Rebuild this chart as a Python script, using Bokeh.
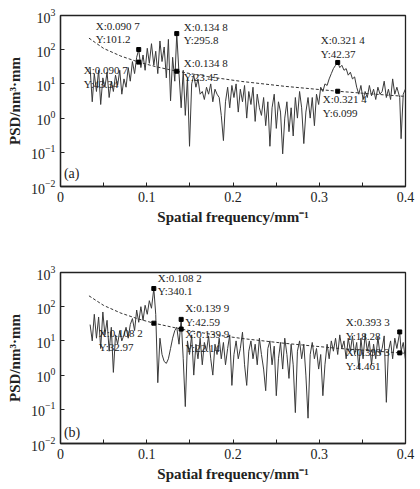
from bokeh.plotting import figure
from bokeh.models import Range1d, FixedTicker, LogTickFormatter, Label, ColumnDataSource
from bokeh.layouts import column
from bokeh.core.properties import value
from bokeh.embed import file_html
from bokeh.resources import INLINE

# ---------------- data ----------------
freq = [0.0343, 0.0368, 0.0392, 0.0417, 0.0442, 0.0466, 0.0491, 0.0515, 0.0540, 0.0564,
        0.0589, 0.0613, 0.0638, 0.0662, 0.0687, 0.0711, 0.0736, 0.0760, 0.0785, 0.0809,
        0.0834, 0.0859, 0.0883, 0.0907, 0.0932, 0.0957, 0.0981, 0.1006, 0.1030, 0.1055,
        0.1082, 0.1104, 0.1128, 0.1153, 0.1177, 0.1202, 0.1227, 0.1251, 0.1276, 0.1300,
        0.1325, 0.1348, 0.1374, 0.1399, 0.1423, 0.1447, 0.1472, 0.1496, 0.1521, 0.1545,
        0.1570, 0.1594, 0.1619, 0.1644, 0.1668, 0.1693, 0.1717, 0.1742, 0.1766, 0.1791,
        0.1815, 0.1840, 0.1864, 0.1889, 0.1913, 0.1938, 0.1962, 0.1987, 0.2011, 0.2036,
        0.2061, 0.2085, 0.2110, 0.2134, 0.2159, 0.2183, 0.2208, 0.2232, 0.2257, 0.2281,
        0.2306, 0.2330, 0.2355, 0.2379, 0.2404, 0.2428, 0.2453, 0.2478, 0.2502, 0.2527,
        0.2551, 0.2576, 0.2600, 0.2625, 0.2649, 0.2674, 0.2698, 0.2723, 0.2747, 0.2772,
        0.2796, 0.2821, 0.2845, 0.2870, 0.2895, 0.2919, 0.2944, 0.2968, 0.2993, 0.3017,
        0.3042, 0.3066, 0.3091, 0.3115, 0.3140, 0.3164, 0.3189, 0.3214, 0.3238, 0.3262,
        0.3287, 0.3312, 0.3336, 0.3361, 0.3385, 0.3410, 0.3434, 0.3459, 0.3483, 0.3508,
        0.3532, 0.3557, 0.3581, 0.3606, 0.3630, 0.3655, 0.3680, 0.3704, 0.3729, 0.3753,
        0.3778, 0.3802, 0.3827, 0.3851, 0.3876, 0.3900, 0.3933, 0.3949, 0.3974, 0.3998]

psd_a = [30, 3, 20, 6, 25, 2.5, 15, 8, 22, 4,
         12, 6, 18, 9, 25, 5, 14, 8, 30, 12,
         45, 20, 60, 101.2, 30, 70, 25, 110, 40, 150,
         35, 90, 20, 180, 45, 120, 15, 200, 3.2, 60,
         12, 295.8, 20, 2.0, 25, 1.2, 15, 0.15, 10, 18,
         8, 14, 5, 6, 3.5, 8, 5, 10, 3, 7,
         5, 4, 1.2, 0.22, 3, 8, 2, 9, 4, 10,
         1.5, 7, 3, 9, 1.0, 6, 2.5, 8, 0.8, 5,
         2, 1.2, 4, 0.6, 3, 0.15, 2, 5, 0.5, 3,
         1.5, 0.09, 1.0, 3, 0.4, 2, 0.3, 4, 1, 6,
         2, 0.18, 1.5, 4, 1.0, 4, 0.6, 5, 2.5, 8,
         6, 10, 9, 14, 20, 28, 35, 42.37, 30, 35,
         25, 28, 18, 22, 14, 16, 8, 5, 9, 3.5,
         6, 4, 9, 4.5, 7, 3.5, 8, 5, 6, 12,
         4, 7, 3.5, 14, 5, 8, 4, 0.25, 5, 7]

psd_b = [30, 10, 60, 12, 50, 6, 70, 15, 40, 5,
         25, 1.2, 15, 8, 20, 10, 15, 25, 12, 30,
         45, 20, 80, 35, 100, 40, 110, 60, 150, 90,
         340.1, 60, 0.6, 12, 4, 2.5, 2.2, 3, 6, 12,
         20, 25, 8, 42.59, 3, 0.12, 10, 4, 15, 1.0,
         8, 3, 12, 2, 9, 5, 14, 3, 1.0, 8,
         4, 12, 3, 9, 2, 6, 15, 0.5, 4, 10,
         3, 6, 18, 2, 0.5, 5, 10, 3, 8, 2,
         12, 4, 1.5, 0.35, 6, 10, 2, 7, 0.25, 3,
         9, 1.5, 12, 4, 0.8, 8, 2, 0.08, 5, 10,
         3, 8, 1, 0.055, 4, 9, 3, 6, 1.5, 4,
         0.25, 2, 8, 3, 10, 5, 12, 4, 15, 6,
         10, 3, 12, 5, 14, 4, 9, 1.5, 12, 3,
         16, 5, 10, 2, 8, 3, 13, 4, 6, 14,
         0.16, 5, 10, 3, 12, 6, 18.28, 5, 9, 3]

fit_a_x = [0.033, 0.05, 0.07, 0.0907, 0.11, 0.1348, 0.17, 0.21, 0.26, 0.3214, 0.36, 0.4]
fit_a_y = [218, 109, 65, 43.34, 32.1, 23.45, 16.4, 11.8, 8.5, 6.099, 5.1, 4.3]
fit_b_x = [0.033, 0.05, 0.07, 0.09, 0.1082, 0.1399, 0.17, 0.21, 0.26, 0.32, 0.3933, 0.4]
fit_b_y = [208, 109, 65, 44, 32.97, 22.14, 16.3, 11.8, 8.5, 6.1, 4.461, 4.35]

tip_a_x = [0.0907, 0.0907, 0.1348, 0.1348, 0.3214, 0.3214]
tip_a_y = [101.2, 43.34, 295.8, 23.45, 42.37, 6.099]
tip_a_text = ["X:0.090 7\nY:101.2", "X:0.090 7\nY:43.34", "X:0.134 8\nY:295.8",
              "X:0.134 8\nY:23.45", "X:0.321 4\nY:42.37", "X:0.321 4\nY:6.099"]
tip_b_x = [0.1082, 0.1082, 0.1399, 0.1399, 0.3933, 0.3933]
tip_b_y = [340.1, 32.97, 42.59, 22.14, 18.28, 4.461]
tip_b_text = ["X:0.108 2\nY:340.1", "X:0.108 2\nY:32.97", "X:0.139 9\nY:42.59",
              "X:0.139 9\nY:22.14", "X:0.393 3\nY:18.28", "X:0.393 3\nY:4.461"]

x_ticks = [0, 0.1, 0.2, 0.3, 0.4]
x_minor = [0.05, 0.15, 0.25, 0.35]
y_ticks = [1e-2, 1e-1, 1e0, 1e1, 1e2, 1e3]

# ---------------- label placement (pixels) ----------------
tip_a_dx = [-43, -55, 7, 7, -17, -15]
tip_a_dy = [-30, 2, -13, -14, -28, 2]
tip_b_dx = [4, -55, 4, 4, -54, -54]
tip_b_dy = [-17, 4, -17, -1, -16, -7]

FONT = "Liberation Serif"


def panel(psd, fx, fy, tx, ty, ttext, tdx, tdy, tag, tag_y, height, btop, bbottom):
    p = figure(width=420, height=height, x_range=Range1d(0, 0.4),
               y_range=Range1d(1e-2, 1e3), y_axis_type="log",
               output_backend="svg", toolbar_location=None,
               min_border_left=60, min_border_right=15,
               min_border_top=btop, min_border_bottom=bbottom)
    p.background_fill_color = "white"
    p.border_fill_color = "white"
    p.outline_line_color = "#222222"
    p.outline_line_width = 1.3
    p.xgrid.visible = False
    p.ygrid.visible = False

    p.xaxis.ticker = FixedTicker(ticks=x_ticks, minor_ticks=x_minor)
    p.yaxis.ticker = FixedTicker(ticks=y_ticks)
    p.yaxis.formatter = LogTickFormatter()
    for ax in (p.xaxis[0], p.yaxis[0]):
        ax.major_tick_in = 4
        ax.major_tick_out = 0
        ax.minor_tick_in = 4
        ax.minor_tick_out = 0
        ax.major_tick_line_color = "#222222"
        ax.minor_tick_line_color = "#222222"
        ax.axis_line_color = "#222222"
        ax.axis_line_width = 1.3
        ax.major_label_text_font = FONT
        ax.major_label_text_font_size = "14px"
        ax.major_label_text_color = "#222222"
        ax.axis_label_text_font = FONT
        ax.axis_label_text_font_style = "bold"
        ax.axis_label_text_font_size = "15px"
        ax.axis_label_text_color = "#222222"
    p.xaxis.major_label_standoff = 5
    p.xaxis.axis_label_standoff = 4
    p.yaxis.major_label_standoff = 5
    p.yaxis.axis_label_standoff = 5
    p.xaxis.axis_label = "Spatial frequency/mm\u207b\u00b9"
    p.yaxis.axis_label = "PSD/nm\u00b3\u00b7mm"

    p.line(freq, psd, line_color="#3a3a3a", line_width=1)
    p.line(fx, fy, line_color="#333333", line_width=1, line_dash="3 2")

    src = ColumnDataSource(dict(x=tx, y=ty, text=ttext, dx=tdx, dy=tdy))
    p.scatter(x="x", y="y", source=src, marker="square", size=4,
              fill_color="black", line_color="black")
    p.text(x="x", y="y", text="text", x_offset="dx", y_offset="dy", source=src,
           text_font=value(FONT), text_font_size="11px", text_baseline="top",
           text_align="left", text_color="#222222", text_line_height=1.15)

    p.add_layout(Label(x=0.004, y=tag_y, text=tag, text_font=FONT,
                       text_font_size="14px", text_baseline="middle",
                       text_color="#222222"))
    return p


pa = panel(psd_a, fit_a_x, fit_a_y, tip_a_x, tip_a_y, tip_a_text, tip_a_dx, tip_a_dy,
           "(a)", 0.024, 244, 15, 58)
pb = panel(psd_b, fit_b_x, fit_b_y, tip_b_x, tip_b_y, tip_b_text, tip_b_dx, tip_b_dy,
           "(b)", 0.021, 245, 28, 46)

layout = column(pa, pb, spacing=0)
open("out.html", "w").write(file_html(layout, INLINE))
